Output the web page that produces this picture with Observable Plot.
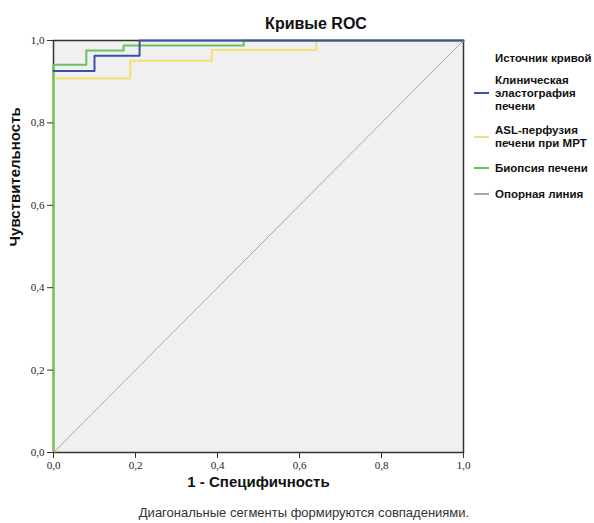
<!DOCTYPE html>
<html><head><meta charset="utf-8">
<script src="https://cdn.jsdelivr.net/npm/d3@7"></script>
<script src="https://cdn.jsdelivr.net/npm/@observablehq/plot@0.6"></script>
<style>
body{margin:0;background:#fff;}
#wrap{position:relative;width:594px;height:523px;font-family:"Liberation Sans",Arial,sans-serif;color:#111;}
#wrap svg{position:absolute;left:0;top:0;}
.t{position:absolute;white-space:nowrap;}
#title{left:0;width:632px;top:14px;line-height:20px;text-align:center;font-weight:bold;font-size:16px;}
#legtitle{left:495px;top:51px;line-height:14px;font-weight:bold;font-size:11.4px;}
.li{position:absolute;left:474px;font-weight:bold;font-size:11.5px;line-height:13.3px;}
.li .sw{position:absolute;left:0;width:15px;height:2px;}
.li .tx{position:absolute;left:21px;white-space:nowrap;}
#foot{left:0;width:608px;top:505px;line-height:16px;text-align:center;font-size:13px;color:#333;}
</style></head>
<body><div id="wrap"></div>
<script>
const title = "Кривые ROC";
const xLabel = "1 - Специфичность";
const yLabel = "Чувствительность";
const footnote = "Диагональные сегменты формируются совпадениями.";
const legendTitle = "Источник кривой";
const seriesNames = ["Клиническая\nэластография\nпечени", "ASL-перфузия\nпечени при МРТ", "Биопсия печени", "Опорная линия"];
const seriesColors = ["#3b51a8", "#f3e070", "#6cbf5a", "#a9a9a9"];
const ticks = [0, 0.2, 0.4, 0.6, 0.8, 1.0];

// ROC curves (1 - specificity, sensitivity)
const elastoX = [0, 0.10, 0.10, 0.21, 0.21, 1];
const elastoY = [0.926, 0.926, 0.963, 0.963, 1, 1];
const aslX = [0, 0, 0.187, 0.187, 0.386, 0.386, 0.641, 0.641, 1];
const aslY = [0, 0.908, 0.908, 0.951, 0.951, 0.977, 0.977, 1, 1];
const biopX = [0, 0, 0.08, 0.08, 0.171, 0.171, 0.464, 0.464, 1];
const biopY = [0, 0.941, 0.941, 0.976, 0.976, 0.988, 0.988, 1, 1];
const refX = [0, 1];
const refY = [0, 1];

const toPts = (xs, ys) => xs.map((x, i) => ({x, y: ys[i]}));
const fmt = d => d3.format(".1f")(d).replace(".", ",");
const serif = "Liberation Serif, Times New Roman, serif";
const sans = "Liberation Sans, Arial, sans-serif";

const plot = Plot.plot({
  width: 594, height: 523,
  marginLeft: 53, marginRight: 131, marginTop: 40, marginBottom: 71,
  x: {domain: [0, 1], label: null},
  y: {domain: [0, 1], label: null},
  style: {fontFamily: serif, fontSize: "11px", color: "#222", background: "transparent"},
  marks: [
    Plot.frame({fill: "#f0f0f0", stroke: null}),
    Plot.line(toPts(refX, refY), {x: "x", y: "y", stroke: seriesColors[3], strokeWidth: 1}),
    Plot.frame({stroke: "#333", strokeWidth: 1.5}),
    Plot.line(toPts(aslX, aslY), {x: "x", y: "y", stroke: seriesColors[1], strokeWidth: 2}),
    Plot.line(toPts(biopX, biopY), {x: "x", y: "y", stroke: seriesColors[2], strokeWidth: 2}),
    Plot.line(toPts(elastoX, elastoY), {x: "x", y: "y", stroke: seriesColors[0], strokeWidth: 2}),
    Plot.axisX({ticks, tickFormat: fmt, tickSize: 6, stroke: "#333", fill: "#222", fontFamily: serif, fontSize: 11, label: null}),
    Plot.axisY({ticks, tickFormat: fmt, tickSize: 6, stroke: "#333", fill: "#222", fontFamily: serif, fontSize: 11, label: null}),
    Plot.text([xLabel], {frameAnchor: "bottom", dy: 34, text: d => d, fontFamily: sans, fontWeight: "bold", fontSize: 15, fill: "#111"}),
    Plot.text([yLabel], {frameAnchor: "left", dx: -38, rotate: -90, text: d => d, fontFamily: sans, fontWeight: "bold", fontSize: 15, fill: "#111"})
  ]
});
const wrap = document.getElementById("wrap");
wrap.appendChild(plot);

function addDiv(id, text) {
  const d = document.createElement("div");
  d.className = "t"; d.id = id; d.textContent = text; wrap.appendChild(d);
}
addDiv("title", title);
addDiv("legtitle", legendTitle);
addDiv("foot", footnote);
const itemTops = [73.5, 124, 161.5, 187.5];
seriesNames.forEach((name, i) => {
  const lines = name.split("\n");
  const it = document.createElement("div");
  it.className = "li";
  it.style.top = itemTops[i] + "px";
  const sw = document.createElement("div");
  sw.className = "sw"; sw.style.background = seriesColors[i];
  sw.style.top = (lines.length * 13.3 / 2 - 1) + "px";
  const tx = document.createElement("div");
  tx.className = "tx"; tx.innerHTML = lines.join("<br>");
  it.appendChild(sw); it.appendChild(tx); wrap.appendChild(it);
});
</script></body></html>
